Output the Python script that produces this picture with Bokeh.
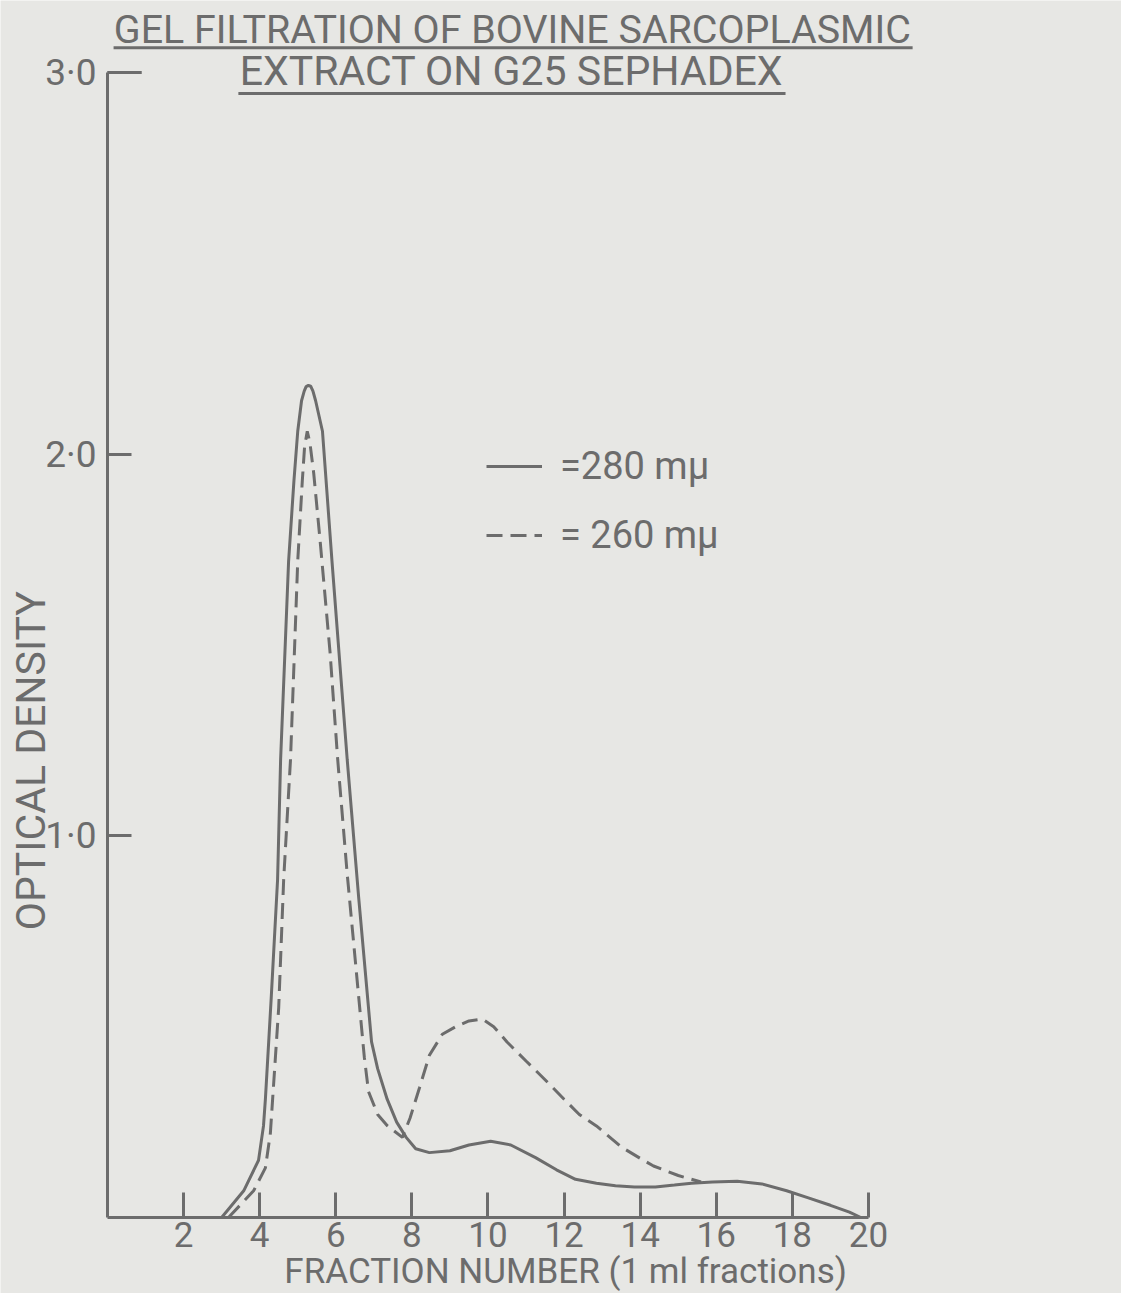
from bokeh.plotting import figure
from bokeh.models import Range1d, FixedTicker, Label, Legend, LegendItem, LinearAxis
from bokeh.embed import file_html
from bokeh.resources import INLINE

# ---------------- data ----------------
frac_280 = [3.0, 3.58, 3.97, 4.1, 4.15, 4.3, 4.47, 4.55, 4.76, 4.9, 5.0, 5.1, 5.17, 5.22, 5.28,
            5.34, 5.4, 5.47, 5.65, 5.9, 6.1, 6.3, 6.6, 6.94, 7.1, 7.35, 7.6, 7.85, 8.1, 8.46,
            9.0, 9.5, 10.07, 10.6, 11.25, 11.8, 12.3, 12.85, 13.35, 13.85, 14.4, 14.9,
            15.35, 15.9, 16.55, 17.2, 17.85, 18.4, 19.0, 19.5, 19.8]
od_280 = [0.0, 0.07, 0.15, 0.24, 0.31, 0.57, 0.885, 1.2, 1.72, 1.93, 2.06, 2.14, 2.165, 2.177, 2.18,
          2.178, 2.165, 2.14, 2.06, 1.72, 1.46, 1.2, 0.84, 0.46, 0.39, 0.31, 0.25, 0.21, 0.18, 0.17,
          0.175, 0.19, 0.20, 0.19, 0.157, 0.125, 0.10, 0.09, 0.083, 0.08, 0.08, 0.085,
          0.09, 0.093, 0.095, 0.088, 0.07, 0.052, 0.032, 0.014, 0.0]

frac_260 = [3.18, 3.84, 4.15, 4.28, 4.34, 4.5, 4.63, 4.81, 5.0, 5.12, 5.18, 5.25, 5.32,
            5.42, 5.6, 5.85, 6.05, 6.3, 6.6, 6.75, 6.86, 7.1, 7.36, 7.75, 7.95, 8.2, 8.46,
            8.8, 9.15, 9.5, 9.85, 10.15, 10.5, 11.0, 11.46, 12.0, 12.4, 12.85, 13.5,
            14.0, 14.35, 15.0, 15.6]
od_260 = [0.0, 0.07, 0.13, 0.22, 0.31, 0.55, 0.885, 1.2, 1.72, 1.93, 2.02, 2.06, 2.03,
          1.95, 1.76, 1.48, 1.2, 0.9, 0.58, 0.42, 0.33, 0.27, 0.24, 0.21, 0.26, 0.34, 0.425,
          0.48, 0.50, 0.515, 0.52, 0.50, 0.46, 0.41, 0.365, 0.31, 0.27, 0.24, 0.185,
          0.155, 0.135, 0.11, 0.093]

x_ticks = [2, 4, 6, 8, 10, 12, 14, 16, 18, 20]
x_tick_labels = {t: str(t) for t in x_ticks}
y_ticks = [1, 2, 3]
y_tick_labels = {1: "1·0", 2: "2·0", 3: "3·0"}

title_lines = ["GEL FILTRATION OF BOVINE SARCOPLASMIC", "EXTRACT ON G25 SEPHADEX"]
x_label = "FRACTION NUMBER (1 ml fractions)"
y_label = "OPTICAL DENSITY"
legend_labels = ["=280 mμ", "= 260 mμ"]

# ---------------- style ----------------
INK = "#6c6c6c"
PAPER = "#e7e7e4"
FONT = "Roboto"

W, H = 1121, 1293

p = figure(width=W, height=H, output_backend="svg", toolbar_location=None,
           x_axis_type=None, y_axis_type=None,
           x_range=Range1d(-2.812, 26.65), y_range=Range1d(-0.1991, 3.1886),
           min_border_left=0, min_border_bottom=0, min_border_top=0, min_border_right=0)
p.background_fill_color = PAPER
p.border_fill_color = PAPER
p.outline_line_color = None

xa = LinearAxis(fixed_location=0)
ya = LinearAxis(fixed_location=0)
p.add_layout(xa, "below")
p.add_layout(ya, "left")

for ax in (xa, ya):
    ax.axis_line_color = INK
    ax.axis_line_width = 3
    ax.major_tick_line_color = INK
    ax.major_tick_line_width = 3
    ax.minor_tick_line_color = None
    ax.major_tick_out = 0
    ax.major_label_text_color = INK
    ax.major_label_text_font = FONT

xa.ticker = FixedTicker(ticks=x_ticks)
xa.major_label_overrides = x_tick_labels
xa.bounds = (0, 20)
xa.major_tick_in = 25
xa.major_label_standoff = 4
xa.major_label_text_font_size = "35px"

ya.ticker = FixedTicker(ticks=y_ticks)
ya.major_label_overrides = y_tick_labels
ya.bounds = (0, 3)
ya.major_tick_in = 24
ya.major_label_standoff = 11
ya.major_label_text_font_size = "37px"

# longer tick at the top of the axis
p.segment(x0=[0], y0=[3], x1=[0.9], y1=[3], line_color=INK, line_width=3)

# ---------------- curves ----------------
r280 = p.line(frac_280, od_280, line_color=INK, line_width=3)
r260 = p.line(frac_260, od_260, line_color=INK, line_width=3, line_dash="16 8")

legend = Legend(items=[LegendItem(label=legend_labels[0], renderers=[r280]),
                       LegendItem(label=legend_labels[1], renderers=[r260])],
                location=(486, 736), background_fill_alpha=0, border_line_alpha=0,
                glyph_width=56, glyph_height=40, label_height=40, spacing=25,
                label_standoff=18, padding=0, margin=0,
                label_text_font=FONT, label_text_font_size="38px",
                label_text_color=INK)
p.add_layout(legend, "center")

# ---------------- texts ----------------
def lab(x, y, text, size, angle=0):
    p.add_layout(Label(x=x, y=y, text=text, text_font=FONT, text_font_size=size,
                       text_color=INK, text_align="center", text_baseline="middle",
                       angle=angle))

lab(10.64, 3.112, title_lines[0], "39.4px")
lab(10.62, 3.003, title_lines[1], "41px")
p.segment(x0=[0.16, 3.44], y0=[3.065, 2.945], x1=[21.16, 17.82], y1=[3.065, 2.945],
          line_color=INK, line_width=3)

lab(-2.0, 1.197, y_label, "41px", angle=1.5707963)
lab(12.04, -0.142, x_label, "35px")

open("out.html", "w").write(file_html(p, INLINE))
